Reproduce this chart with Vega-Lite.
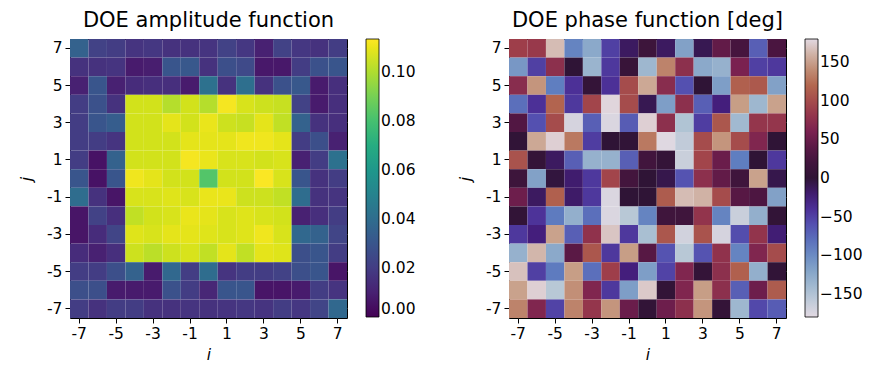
{
  "$schema": "https://vega.github.io/schema/vega-lite/v6.json",
  "padding": {"left": 19, "top": 9, "right": 5, "bottom": 5},
  "background": "white",
  "spacing": 41,
  "config": {
    "font": "DejaVu Sans",
    "view": {"stroke": "black", "strokeWidth": 1},
    "axis": {"labelFont": "DejaVu Sans", "labelFontSize": 15.5, "labelColor": "black", "tickColor": "black", "tickSize": 5, "tickWidth": 1, "domain": false, "grid": true, "gridColor": "white", "gridOpacity": 0.45, "gridWidth": 0.8, "titleFont": "DejaVu Sans", "titleFontSize": 15.5, "titleFontStyle": "italic", "titleFontWeight": "normal", "titleColor": "black", "labelPadding": 3, "zindex": 1, "bandPosition": 0.5, "labelAngle": 0},
    "title": {"font": "DejaVu Sans", "fontSize": 21, "fontWeight": "normal", "color": "black", "offset": 8},
    "legend": {"gradientLength": 278, "gradientThickness": 13, "labelFontSize": 15.5, "labelFont": "DejaVu Sans", "labelColor": "black", "gradientStrokeColor": "black", "gradientStrokeWidth": 0.8, "offset": 19, "padding": 0, "labelOffset": 10, "labelOverlap": false}
  },
  "datasets": {
    "doe": [
      {"i":-7,"j":7,"a":0.035,"p":90},{"i":-6,"j":7,"a":0.022,"p":85},{"i":-5,"j":7,"a":0.02,"p":165},{"i":-4,"j":7,"a":0.017,"p":-95},{"i":-3,"j":7,"a":0.018,"p":-125},{"i":-2,"j":7,"a":0.016,"p":-50},{"i":-1,"j":7,"a":0.016,"p":-15},{"i":0,"j":7,"a":0.017,"p":15},{"i":1,"j":7,"a":0.022,"p":-15},{"i":2,"j":7,"a":0.018,"p":-118},{"i":3,"j":7,"a":0.01,"p":-10},{"i":4,"j":7,"a":0.022,"p":45},{"i":5,"j":7,"a":0.018,"p":25},{"i":6,"j":7,"a":0.016,"p":-70},{"i":7,"j":7,"a":0.02,"p":30},
      {"i":-7,"j":6,"a":0.016,"p":-110},{"i":-6,"j":6,"a":0.016,"p":-50},{"i":-5,"j":6,"a":0.017,"p":75},{"i":-4,"j":6,"a":0.008,"p":0},{"i":-3,"j":6,"a":0.009,"p":-135},{"i":-2,"j":6,"a":0.03,"p":-45},{"i":-1,"j":6,"a":0.031,"p":10},{"i":0,"j":6,"a":0.016,"p":-138},{"i":1,"j":6,"a":0.027,"p":135},{"i":2,"j":6,"a":0.025,"p":75},{"i":3,"j":6,"a":0.007,"p":-125},{"i":4,"j":6,"a":0.007,"p":-132},{"i":5,"j":6,"a":0.02,"p":60},{"i":6,"j":6,"a":0.028,"p":-50},{"i":7,"j":6,"a":0.03,"p":-45},
      {"i":-7,"j":5,"a":0.01,"p":72},{"i":-6,"j":5,"a":0.03,"p":145},{"i":-5,"j":5,"a":0.01,"p":-90},{"i":-4,"j":5,"a":0.014,"p":-40},{"i":-3,"j":5,"a":0.015,"p":5},{"i":-2,"j":5,"a":0.015,"p":-40},{"i":-1,"j":5,"a":0.008,"p":100},{"i":0,"j":5,"a":0.042,"p":155},{"i":1,"j":5,"a":0.016,"p":72},{"i":2,"j":5,"a":0.041,"p":-60},{"i":3,"j":5,"a":0.016,"p":0},{"i":4,"j":5,"a":0.028,"p":-115},{"i":5,"j":5,"a":0.031,"p":115},{"i":6,"j":5,"a":0.008,"p":110},{"i":7,"j":5,"a":0.015,"p":-118},
      {"i":-7,"j":4,"a":0.02,"p":-80},{"i":-6,"j":4,"a":0.028,"p":-40},{"i":-5,"j":4,"a":0.016,"p":118},{"i":-4,"j":4,"a":0.106,"p":-45},{"i":-3,"j":4,"a":0.106,"p":95},{"i":-2,"j":4,"a":0.101,"p":178},{"i":-1,"j":4,"a":0.106,"p":100},{"i":0,"j":4,"a":0.101,"p":-10},{"i":1,"j":4,"a":0.112,"p":-115},{"i":2,"j":4,"a":0.107,"p":75},{"i":3,"j":4,"a":0.105,"p":-70},{"i":4,"j":4,"a":0.104,"p":-25},{"i":5,"j":4,"a":0.022,"p":150},{"i":6,"j":4,"a":0.008,"p":-138},{"i":7,"j":4,"a":0.015,"p":152},
      {"i":-7,"j":3,"a":0.02,"p":35},{"i":-6,"j":3,"a":0.03,"p":-60},{"i":-5,"j":3,"a":0.033,"p":100},{"i":-4,"j":3,"a":0.106,"p":-172},{"i":-3,"j":3,"a":0.106,"p":-70},{"i":-2,"j":3,"a":0.109,"p":-175},{"i":-1,"j":3,"a":0.106,"p":-68},{"i":0,"j":3,"a":0.11,"p":175},{"i":1,"j":3,"a":0.105,"p":75},{"i":2,"j":3,"a":0.104,"p":-150},{"i":3,"j":3,"a":0.109,"p":-48},{"i":4,"j":3,"a":0.103,"p":108},{"i":5,"j":3,"a":0.035,"p":-140},{"i":6,"j":3,"a":0.016,"p":82},{"i":7,"j":3,"a":0.015,"p":82},
      {"i":-7,"j":2,"a":0.02,"p":2},{"i":-6,"j":2,"a":0.02,"p":155},{"i":-5,"j":2,"a":0.017,"p":175},{"i":-4,"j":2,"a":0.106,"p":130},{"i":-3,"j":2,"a":0.106,"p":-48},{"i":-2,"j":2,"a":0.106,"p":0},{"i":-1,"j":2,"a":0.109,"p":2},{"i":0,"j":2,"a":0.109,"p":130},{"i":1,"j":2,"a":0.109,"p":-178},{"i":2,"j":2,"a":0.111,"p":-160},{"i":3,"j":2,"a":0.111,"p":100},{"i":4,"j":2,"a":0.109,"p":145},{"i":5,"j":2,"a":0.02,"p":100},{"i":6,"j":2,"a":0.027,"p":65},{"i":7,"j":2,"a":0.01,"p":0},
      {"i":-7,"j":1,"a":0.02,"p":105},{"i":-6,"j":1,"a":0.005,"p":5},{"i":-5,"j":1,"a":0.035,"p":-15},{"i":-4,"j":1,"a":0.106,"p":-70},{"i":-3,"j":1,"a":0.106,"p":-132},{"i":-2,"j":1,"a":0.106,"p":-132},{"i":-1,"j":1,"a":0.112,"p":-70},{"i":0,"j":1,"a":0.11,"p":20},{"i":1,"j":1,"a":0.107,"p":5},{"i":2,"j":1,"a":0.107,"p":-165},{"i":3,"j":1,"a":0.106,"p":95},{"i":4,"j":1,"a":0.107,"p":50},{"i":5,"j":1,"a":0.01,"p":-90},{"i":6,"j":1,"a":0.02,"p":0},{"i":7,"j":1,"a":0.042,"p":-45},
      {"i":-7,"j":0,"a":0.03,"p":15},{"i":-6,"j":0,"a":0.005,"p":-118},{"i":-5,"j":0,"a":0.03,"p":-3},{"i":-4,"j":0,"a":0.111,"p":-20},{"i":-3,"j":0,"a":0.109,"p":-45},{"i":-2,"j":0,"a":0.106,"p":95},{"i":-1,"j":0,"a":0.106,"p":22},{"i":0,"j":0,"a":0.083,"p":0},{"i":1,"j":0,"a":0.106,"p":-8},{"i":2,"j":0,"a":0.106,"p":-62},{"i":3,"j":0,"a":0.113,"p":75},{"i":4,"j":0,"a":0.107,"p":45},{"i":5,"j":0,"a":0.03,"p":18},{"i":6,"j":0,"a":0.016,"p":152},{"i":7,"j":0,"a":0.02,"p":-8},
      {"i":-7,"j":-1,"a":0.04,"p":52},{"i":-6,"j":-1,"a":0.016,"p":-15},{"i":-5,"j":-1,"a":0.006,"p":115},{"i":-4,"j":-1,"a":0.107,"p":-18},{"i":-3,"j":-1,"a":0.107,"p":-45},{"i":-2,"j":-1,"a":0.108,"p":-175},{"i":-1,"j":-1,"a":0.107,"p":0},{"i":0,"j":-1,"a":0.11,"p":0},{"i":1,"j":-1,"a":0.11,"p":112},{"i":2,"j":-1,"a":0.105,"p":165},{"i":3,"j":-1,"a":0.105,"p":160},{"i":4,"j":-1,"a":0.103,"p":100},{"i":5,"j":-1,"a":0.04,"p":38},{"i":6,"j":-1,"a":0.016,"p":32},{"i":7,"j":-1,"a":0.017,"p":-118},
      {"i":-7,"j":-2,"a":0.006,"p":3},{"i":-6,"j":-2,"a":0.022,"p":-42},{"i":-5,"j":-2,"a":0.015,"p":-88},{"i":-4,"j":-2,"a":0.103,"p":-130},{"i":-3,"j":-2,"a":0.106,"p":-80},{"i":-2,"j":-2,"a":0.107,"p":-175},{"i":-1,"j":-2,"a":0.11,"p":-155},{"i":0,"j":-2,"a":0.109,"p":-95},{"i":1,"j":-2,"a":0.107,"p":18},{"i":2,"j":-2,"a":0.108,"p":18},{"i":3,"j":-2,"a":0.107,"p":80},{"i":4,"j":-2,"a":0.106,"p":-95},{"i":5,"j":-2,"a":0.01,"p":-165},{"i":6,"j":-2,"a":0.015,"p":-130},{"i":7,"j":-2,"a":0.02,"p":3},
      {"i":-7,"j":-3,"a":0.006,"p":-45},{"i":-6,"j":-3,"a":0.014,"p":-25},{"i":-5,"j":-3,"a":0.023,"p":152},{"i":-4,"j":-3,"a":0.108,"p":-70},{"i":-3,"j":-3,"a":0.107,"p":78},{"i":-2,"j":-3,"a":0.109,"p":170},{"i":-1,"j":-3,"a":0.109,"p":-45},{"i":0,"j":-3,"a":0.108,"p":-145},{"i":1,"j":-3,"a":0.107,"p":108},{"i":2,"j":-3,"a":0.108,"p":-170},{"i":3,"j":-3,"a":0.111,"p":105},{"i":4,"j":-3,"a":0.107,"p":-172},{"i":5,"j":-3,"a":0.038,"p":-58},{"i":6,"j":-3,"a":0.035,"p":80},{"i":7,"j":-3,"a":0.023,"p":-22},
      {"i":-7,"j":-4,"a":0.014,"p":-132},{"i":-6,"j":-4,"a":0.01,"p":162},{"i":-5,"j":-4,"a":0.015,"p":-125},{"i":-4,"j":-4,"a":0.105,"p":40},{"i":-3,"j":-4,"a":0.102,"p":108},{"i":-2,"j":-4,"a":0.105,"p":-45},{"i":-1,"j":-4,"a":0.107,"p":150},{"i":0,"j":-4,"a":0.103,"p":38},{"i":1,"j":-4,"a":0.109,"p":-62},{"i":2,"j":-4,"a":0.103,"p":-155},{"i":3,"j":-4,"a":0.109,"p":-62},{"i":4,"j":-4,"a":0.108,"p":78},{"i":5,"j":-4,"a":0.027,"p":-95},{"i":6,"j":-4,"a":0.03,"p":65},{"i":7,"j":-4,"a":0.02,"p":100},
      {"i":-7,"j":-5,"a":0.02,"p":168},{"i":-6,"j":-5,"a":0.02,"p":-50},{"i":-5,"j":-5,"a":0.027,"p":-88},{"i":-4,"j":-5,"a":0.035,"p":150},{"i":-3,"j":-5,"a":0.008,"p":-80},{"i":-2,"j":-5,"a":0.038,"p":90},{"i":-1,"j":-5,"a":0.02,"p":-25},{"i":0,"j":-5,"a":0.04,"p":-115},{"i":1,"j":-5,"a":0.017,"p":-52},{"i":2,"j":-5,"a":0.02,"p":65},{"i":3,"j":-5,"a":0.02,"p":5},{"i":4,"j":-5,"a":0.022,"p":75},{"i":5,"j":-5,"a":0.027,"p":115},{"i":6,"j":-5,"a":0.03,"p":-130},{"i":7,"j":-5,"a":0.006,"p":2},
      {"i":-7,"j":-6,"a":0.027,"p":152},{"i":-6,"j":-6,"a":0.027,"p":175},{"i":-5,"j":-6,"a":0.008,"p":-155},{"i":-4,"j":-6,"a":0.008,"p":142},{"i":-3,"j":-6,"a":0.008,"p":65},{"i":-2,"j":-6,"a":0.028,"p":-45},{"i":-1,"j":-6,"a":0.02,"p":-115},{"i":0,"j":-6,"a":0.012,"p":172},{"i":1,"j":-6,"a":0.03,"p":3},{"i":2,"j":-6,"a":0.03,"p":65},{"i":3,"j":-6,"a":0.006,"p":150},{"i":4,"j":-6,"a":0.006,"p":75},{"i":5,"j":-6,"a":0.008,"p":-70},{"i":6,"j":-6,"a":0.02,"p":52},{"i":7,"j":-6,"a":0.017,"p":112},
      {"i":-7,"j":-7,"a":0.02,"p":135},{"i":-6,"j":-7,"a":0.016,"p":65},{"i":-5,"j":-7,"a":0.02,"p":-52},{"i":-4,"j":-7,"a":0.02,"p":135},{"i":-3,"j":-7,"a":0.016,"p":82},{"i":-2,"j":-7,"a":0.016,"p":145},{"i":-1,"j":-7,"a":0.017,"p":50},{"i":0,"j":-7,"a":0.016,"p":3},{"i":1,"j":-7,"a":0.017,"p":52},{"i":2,"j":-7,"a":0.018,"p":75},{"i":3,"j":-7,"a":0.017,"p":145},{"i":4,"j":-7,"a":0.02,"p":5},{"i":5,"j":-7,"a":0.018,"p":-138},{"i":6,"j":-7,"a":0.023,"p":-55},{"i":7,"j":-7,"a":0.038,"p":-68}
    ]
  },
  "hconcat": [
    {
      "title": "DOE amplitude function",
      "width": 277,
      "height": 279,
      "data": {"name": "doe"},
      "mark": {"type": "rect"},
      "encoding": {
        "x": {"field": "i", "type": "ordinal", "scale": {"paddingInner": 0, "paddingOuter": 0}, "axis": {"values": [-7,-5,-3,-1,1,3,5,7], "title": "i", "titlePadding": 6}},
        "y": {"field": "j", "type": "ordinal", "sort": "descending", "scale": {"paddingInner": 0, "paddingOuter": 0}, "axis": {"values": [-7,-5,-3,-1,1,3,5,7], "title": "j", "titlePadding": 12}},
        "color": {"field": "a", "type": "quantitative", "scale": {"scheme": "viridis", "domain": [0, 0.1135], "nice": false}, "legend": {"title": null, "values": [0, 0.02, 0.04, 0.06, 0.08, 0.1], "format": ".2f"}}
      }
    },
    {
      "title": "DOE phase function [deg]",
      "width": 277,
      "height": 279,
      "data": {"name": "doe"},
      "mark": {"type": "rect"},
      "encoding": {
        "x": {"field": "i", "type": "ordinal", "scale": {"paddingInner": 0, "paddingOuter": 0}, "axis": {"values": [-7,-5,-3,-1,1,3,5,7], "title": "i", "titlePadding": 6}},
        "y": {"field": "j", "type": "ordinal", "sort": "descending", "scale": {"paddingInner": 0, "paddingOuter": 0}, "axis": {"values": [-7,-5,-3,-1,1,3,5,7], "title": "j", "titlePadding": 12}},
        "color": {"field": "p", "type": "quantitative", "scale": {"domain": [-180,-150,-120,-90,-60,-30,0,30,60,90,120,150,180], "range": ["#e2d9e2","#b0c4d4","#84a4c8","#5f7ec0","#5450b0","#48208a","#2f1436","#4a1540","#7a2150","#9e3e4a","#b3674f","#c79e86","#e2d9e2"], "interpolate": "rgb"}, "legend": {"title": null, "values": [-150,-100,-50,0,50,100,150], "labelExpr": "datum.value < 0 ? '−' + abs(datum.value) : '' + datum.value"}}
      }
    }
  ],
  "resolve": {"scale": {"color": "independent", "x": "independent", "y": "independent"}, "legend": {"color": "independent"}}
}
